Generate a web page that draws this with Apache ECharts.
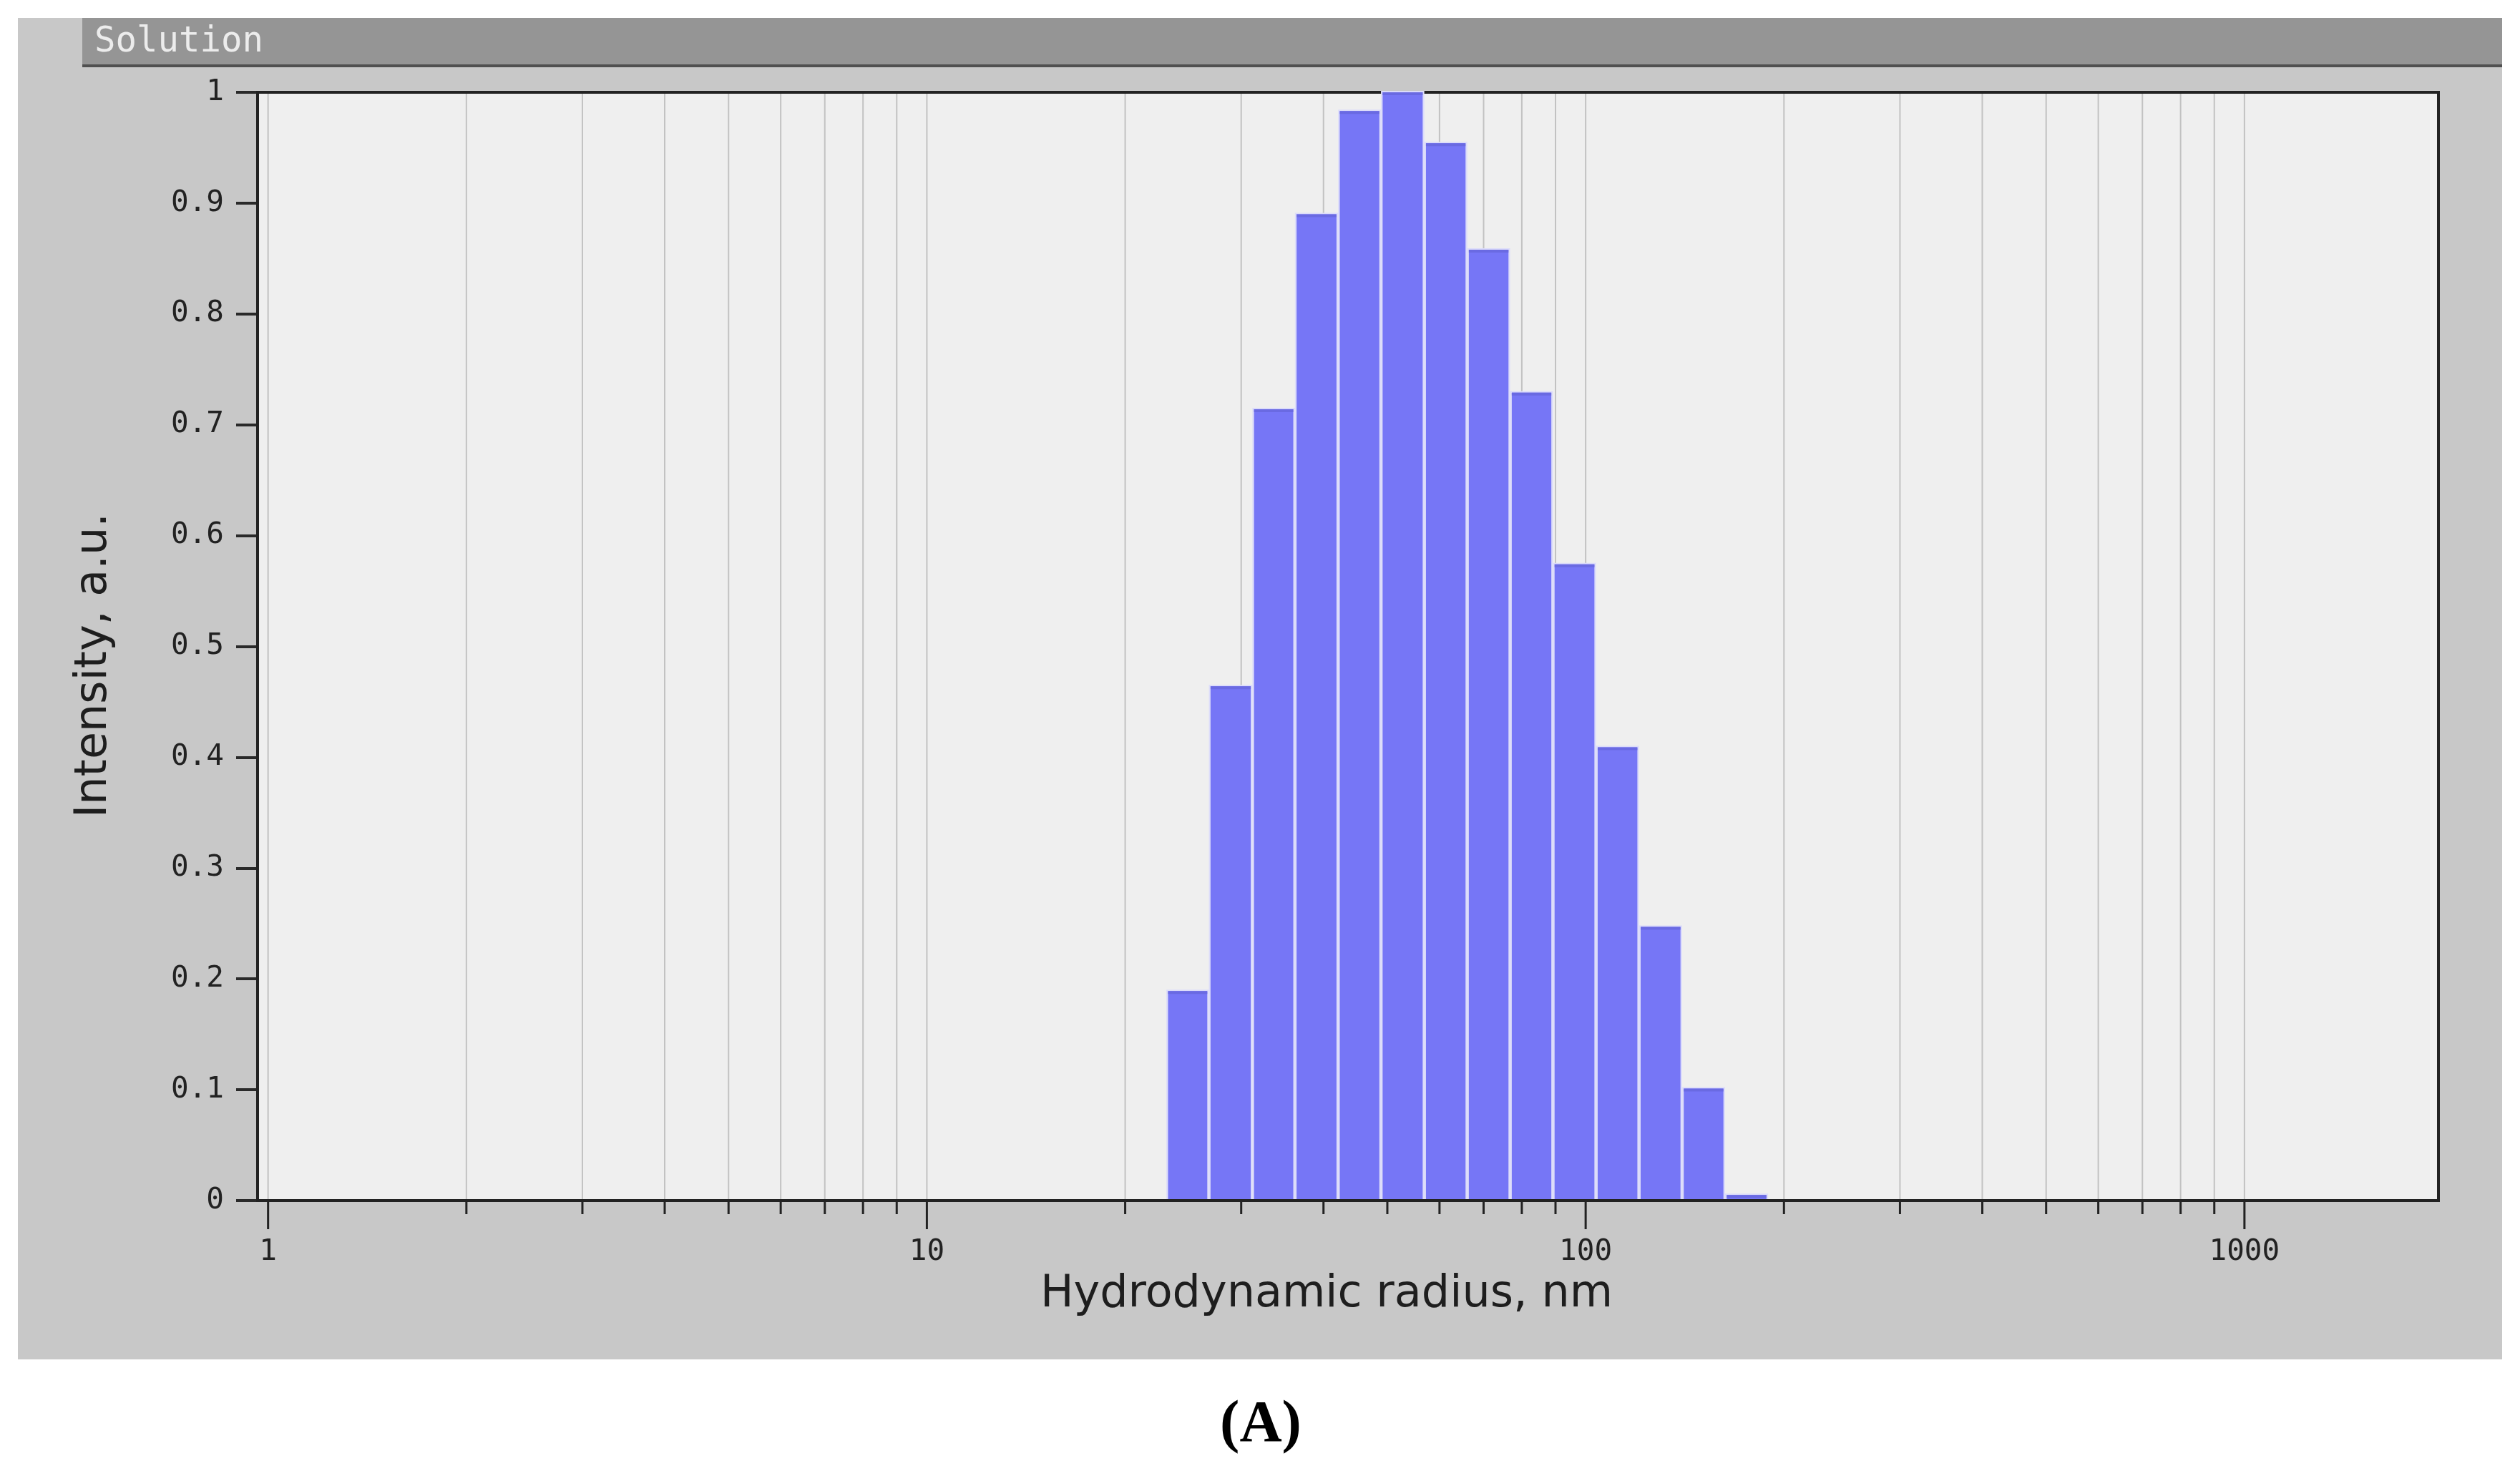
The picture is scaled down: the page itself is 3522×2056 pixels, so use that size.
<!DOCTYPE html>
<html><head><meta charset="utf-8">
<script src="https://cdn.jsdelivr.net/npm/echarts@6/dist/echarts.min.js"></script>
<style>html,body{margin:0;padding:0;background:#fff}#c{width:3522px;height:2056px}</style>
</head><body><div id="c"></div>
<script>
// Histogram bins (hydrodynamic radius, nm) on a log axis
const binLeft  = [23.1, 26.8, 31.2, 36.2, 42.1, 48.9, 56.9, 66.1, 76.8, 89.2, 103.7, 120.5, 140.1, 162.8];
const binRight = [26.8, 31.2, 36.2, 42.1, 48.9, 56.9, 66.1, 76.8, 89.2, 103.7, 120.5, 140.1, 162.8, 189.2];
const intensity = [0.189, 0.464, 0.714, 0.890, 0.983, 1.000, 0.954, 0.858, 0.729, 0.574, 0.409, 0.247, 0.101, 0.005];
const majorTicks = [1, 10, 100, 1000];
const minorTicks = [2, 3, 4, 5, 6, 7, 8, 9, 20, 30, 40, 50, 60, 70, 80, 90, 200, 300, 400, 500, 600, 700, 800, 900];
const xRange = [0.964, 1970];
const yRange = [0, 1];
const yStep = 0.1;
const panelTitle = 'Solution';
const xTitle = 'Hydrodynamic radius, nm';
const yTitle = 'Intensity, a.u.';
const caption = '(A)';

const chart = echarts.init(document.getElementById('c'), null, {renderer: 'canvas'});

const barData = binLeft.map((l, i) => [l, binRight[i], intensity[i]]);
const tickData = majorTicks.map(v => [v, 1]).concat(minorTicks.map(v => [v, 0]));

const option = {
  backgroundColor: '#ffffff',
  animation: false,
  grid: {
    left: 360, right: 114, top: 129, bottom: 378,
    show: true, backgroundColor: '#efefef', borderColor: '#222', borderWidth: 4, z: 1
  },
  xAxis: {
    type: 'log', logBase: 10, min: xRange[0], max: xRange[1],
    axisLine: {show: true, lineStyle: {color: '#1e1e1e', width: 4}},
    axisTick: {show: false},
    splitLine: {show: false},
    axisLabel: {
      customValues: majorTicks,
      margin: 52, color: '#222', fontFamily: 'DejaVu Sans Mono', fontSize: 41,
      formatter: v => majorTicks.some(m => Math.abs(m - v) < 1e-6 * m) ? String(Math.round(v)) : ''
    }
  },
  yAxis: {
    type: 'value', min: yRange[0], max: yRange[1], interval: yStep,
    axisLine: {show: true, lineStyle: {color: '#1e1e1e', width: 4}},
    axisTick: {show: true, length: 30, lineStyle: {color: '#2a2a2a', width: 4}},
    splitLine: {show: true, lineStyle: {color: '#c6c6c6', width: 3}},
    axisLabel: {margin: 47, color: '#222', fontFamily: 'DejaVu Sans Mono', fontSize: 41}
  },
  graphic: [
    {type: 'rect', z: -5, shape: {x: 25, y: 25, width: 3472, height: 1875}, style: {fill: '#c8c8c8'}},
    {type: 'rect', z: -4, shape: {x: 115, y: 25, width: 3382, height: 67}, style: {fill: '#959595'}},
    {type: 'line', z: -3, shape: {x1: 115, y1: 92, x2: 3497, y2: 92}, style: {stroke: '#505050', lineWidth: 4}},
    {type: 'text', z: 10, x: 132, y: 59, style: {text: panelTitle, fill: '#ececec', fontFamily: 'DejaVu Sans Mono', fontSize: 49, verticalAlign: 'middle'}},
    {type: 'text', z: 10, x: 1854, y: 1810, style: {text: xTitle, fill: '#1e1e1e', fontFamily: 'DejaVu Sans', fontSize: 62, align: 'center', verticalAlign: 'middle'}},
    {type: 'text', z: 10, x: 132, y: 930, rotation: Math.PI / 2, style: {text: yTitle, fill: '#1e1e1e', fontFamily: 'DejaVu Sans', fontSize: 62, align: 'center', verticalAlign: 'middle'}},
    {type: 'text', z: 10, x: 1762, y: 1993, style: {text: caption, fill: '#000', fontFamily: 'Liberation Serif', fontWeight: 'bold', fontSize: 82, align: 'center', verticalAlign: 'middle'}}
  ],
  series: [
    {
      type: 'custom', name: 'grid', z: 2, clip: false, silent: true,
      data: tickData,
      encode: {x: 0},
      renderItem: (params, api) => {
        const v = api.value(0);
        const major = api.value(1) === 1;
        const b = api.coord([v, yRange[0]]);
        const t = api.coord([v, yRange[1]]);
        return {
          type: 'group',
          children: [
            {type: 'line', shape: {x1: b[0], y1: b[1] - 2, x2: t[0], y2: t[1] + 2}, style: {stroke: '#c2c2c2', lineWidth: 2}},
            {type: 'line', shape: {x1: b[0], y1: b[1] + 2, x2: b[0], y2: b[1] + (major ? 40 : 19)}, style: {stroke: '#222', lineWidth: 3}}
          ]
        };
      }
    },
    {
      type: 'custom', name: 'Intensity', z: 3,
      data: barData,
      encode: {x: [0, 1], y: 2},
      renderItem: (params, api) => {
        const p0 = api.coord([api.value(0), 0]);
        const p1 = api.coord([api.value(1), api.value(2)]);
        const x0 = p0[0], x1 = p1[0], yb = p0[1] - 2, yt = p1[1];
        return {
          type: 'group',
          children: [
            {type: 'rect', shape: {x: x0, y: yt - 2, width: x1 - x0, height: yb - yt + 2}, style: {fill: '#dcdcfa'}},
            {type: 'rect', shape: {x: x0 + 2.3, y: yt, width: x1 - x0 - 4.6, height: yb - yt}, style: {fill: '#7676f6'}},
            {type: 'rect', shape: {x: x0 + 2.3, y: yt, width: x1 - x0 - 4.6, height: Math.min(4, yb - yt)}, style: {fill: '#6a6ae2'}}
          ]
        };
      }
    }
  ]
};
chart.setOption(option);
</script></body></html>
